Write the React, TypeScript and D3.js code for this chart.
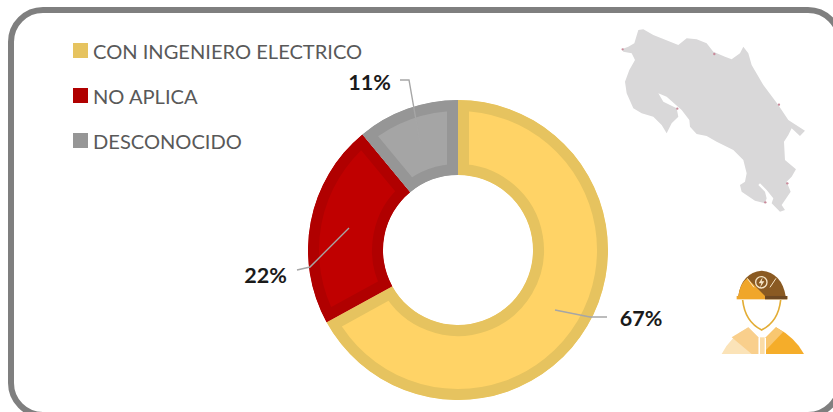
import React from "react";
import * as d3 from "d3";

const categories = ["CON INGENIERO ELECTRICO", "NO APLICA", "DESCONOCIDO"];
const percents = [67, 22, 11];
const fillColors = ["#ffd366", "#c00000", "#a5a5a5"];
const borderColors = ["#e6c35f", "#b00000", "#969696"];

const cx = 458, cy = 250, outerR = 150, innerR = 75, borderW = 11;

const mapPts = [[65,118],[85,110],[103,100],[115,60],[130,58],[160,75],[235,105],[260,85],[290,88],[320,100],[340,125],[375,140],[395,148],[420,130],[430,110],[445,130],[455,165],[490,225],[535,285],[565,330],[580,340],[615,362],[600,378],[575,355],[565,375],[552,395],[555,450],[588,478],[575,500],[560,515],[572,545],[545,585],[555,600],[540,605],[515,580],[520,565],[500,540],[480,520],[475,525],[495,545],[500,565],[495,580],[465,572],[425,545],[420,525],[435,515],[440,490],[430,450],[400,420],[350,395],[320,378],[290,372],[270,350],[268,330],[245,300],[200,260],[175,250],[190,275],[230,295],[235,320],[215,340],[200,370],[185,345],[160,320],[125,310],[100,295],[80,250],[75,215],[88,180],[105,150],[95,130],[70,125]];
const mapFlecks = [[343,132],[232,296],[537,284],[562,520],[496,577],[68,118]];

const leaders = [
  [[555,310],[590,317],[607,317]],
  [[349,228],[310,267],[297,270]],
  [[420,143],[409,80],[400,80]],
];
const labelPos = [[641,318],[265.5,275],[369.5,82]];

export default function App() {
  const pie = d3.pie<number>().sort(null).value(d => d);
  const arcs = pie(percents);
  const arc = d3.arc<d3.PieArcDatum<number>>().innerRadius(innerR).outerRadius(outerR);
  const line = d3.line();
  return (
    <svg width={833} height={412} style={{ position: "absolute", left: 0, top: 0, background: "#fff" }}
      fontFamily="Lato, 'Open Sans', sans-serif">
      <defs>
        {arcs.map((a, i) => (
          <clipPath id={`c${i}`} key={i}><path d={arc(a)!} /></clipPath>
        ))}
        <filter id="soft"><feGaussianBlur stdDeviation="0.5" /></filter>
      </defs>
      <rect x={11} y={10} width={829} height={405} rx={32} fill="#fff" stroke="#7f7f7f" strokeWidth={6} />

      <g transform={`translate(${cx},${cy})`}>
        {arcs.map((a, i) => (
          <path key={i} d={arc(a)!} fill={fillColors[i]} stroke={borderColors[i]}
            strokeWidth={borderW * 2} strokeLinejoin="miter" clipPath={`url(#c${i})`} />
        ))}
      </g>

      {leaders.map((l, i) => (
        <path key={i} d={line(l as [number, number][])!} fill="none" stroke="#a6a6a6" strokeWidth={1.4} />
      ))}
      {percents.map((p, i) => (
        <text key={i} x={labelPos[i][0]} y={labelPos[i][1]} textAnchor="middle" dominantBaseline="central"
          fontSize={21.5} fontWeight={700} fill="#1a1a1a">{p}%</text>
      ))}

      {categories.map((c, i) => (
        <g key={c} transform={`translate(73,${43 + i * 45})`}>
          <rect width={15} height={15} fill={borderColors[i]} />
          <text x={20} y={7.5} dominantBaseline="central" fontSize={20.1} fill="#595959">{c}</text>
        </g>
      ))}

      <g transform="translate(600,10) scale(0.3333)" filter="url(#soft)">
        <path d={"M" + mapPts.map(p => p.join(",")).join("L") + "Z"} fill="#d9d8d9" />
        {mapFlecks.map((p, i) => <circle key={i} cx={p[0]} cy={p[1]} r={3.5} fill="#c98a9a" />)}
      </g>

      <g transform="translate(690,250) scale(0.3333)" filter="url(#soft)">
        <path d="M95,312 Q120,262 175,232 L205,262 L205,312Z" fill="#fbe3b8" />
        <path d="M125,262 L175,232 L205,262 L205,312 L185,312Z" fill="#f9cf8c" />
        <path d="M228,312 L228,262 L258,232 Q315,262 342,312Z" fill="#f5ad2c" />
        <path d="M228,262 L258,232 L280,245 L228,300Z" fill="#f9c76f" />
        <path d="M210,262 H224 V312 H210Z" fill="#fbdca6" />
        <path d="M158,150 Q165,215 215,240 Q265,215 272,150" fill="none" stroke="#e3ad35" strokeWidth={5} />
        <path d="M145,138 Q155,68 215,62 Q275,68 287,138Z" fill="#8a5a22" />
        <path d="M145,138 Q150,100 172,85 L225,138Z" fill="#f0a62c" />
        <path d="M172,85 L192,112 M258,85 L240,112" stroke="#f6e6c8" strokeWidth={3} fill="none" />
        <rect x={140} y={138} width={152} height={10} fill="#f0a62c" />
        <rect x={225} y={138} width={67} height={10} fill="#6e4a22" />
        <circle cx={214} cy={97} r={17} fill="none" stroke="#f6e6c8" strokeWidth={4} />
        <path d="M218,82 L206,100 H214 L210,113 L223,94 H215Z" fill="#f6e6c8" />
      </g>
    </svg>
  );
}
